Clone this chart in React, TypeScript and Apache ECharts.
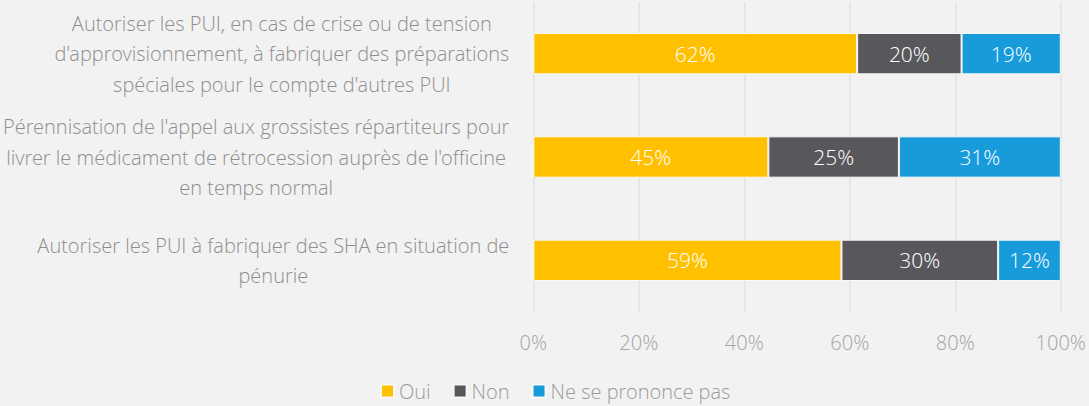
import React, { useEffect, useRef } from "react";
import * as echarts from "echarts";

const categories = [
  "Autoriser les PUI à fabriquer des SHA en situation de\npénurie",
  "Pérennisation de l'appel aux grossistes répartiteurs pour\nlivrer le médicament de rétrocession auprès de l'officine\nen temps normal",
  "Autoriser les PUI, en cas de crise ou de tension\nd'approvisionnement, à fabriquer des préparations\nspéciales pour le compte d'autres PUI",
];
const seriesNames = ["Oui", "Non", "Ne se prononce pas"];
const oui = [59, 45, 62];
const non = [30, 25, 20];
const nsp = [12, 31, 19];
const colors = ["#FFC000", "#58585C", "#179BDB"];
const xTicks = [0, 20, 40, 60, 80, 100];

const FONT = "'Open Sans Light', 'Lato Light', 'Noto Sans Light', 'Open Sans', sans-serif";

export default function App() {
  const ref = useRef<HTMLDivElement>(null);
  useEffect(() => {
    if (!ref.current) return;
    const chart = echarts.init(ref.current, undefined, { renderer: "svg" });
    const raw = [oui, non, nsp];
    const sums = categories.map((_, i) => oui[i] + non[i] + nsp[i]);
    const series = raw.map((arr, s) => ({
      name: seriesNames[s],
      type: "bar",
      stack: "total",
      barWidth: "40%",
      itemStyle: { color: colors[s], borderColor: "#F8F8F8", borderWidth: 1 },
      label: {
        show: true,
        position: "inside",
        color: "#FFFFFF",
        fontFamily: FONT,
        fontWeight: 300,
        fontSize: 21,
        formatter: (p: any) => arr[p.dataIndex] + "%",
      },
      data: arr.map((v, i) => (v / sums[i]) * 100),
    }));
    chart.setOption({
      animation: false,
      backgroundColor: "#F2F2F2",
      textStyle: { fontFamily: FONT },
      color: colors,
      grid: { left: 531, right: 25, top: 2, bottom: 94, containLabel: false },
      legend: {
        top: 379,
        left: 380,
        padding: 0,
        itemWidth: 13,
        itemHeight: 13,
        itemGap: 22,
        icon: "rect",
        textStyle: { color: "#9A9A9A", fontSize: 20, fontWeight: 300, fontFamily: FONT, lineHeight: 24 },
        data: seriesNames,
      },
      xAxis: {
        type: "value",
        min: 0,
        max: 100,
        interval: 20,
        axisLine: { show: false },
        axisTick: { show: false },
        splitLine: { show: true, lineStyle: { color: "#E2E2E2", width: 1.5 } },
        axisLabel: {
          color: "#A6A6A6",
          fontSize: 20,
          fontWeight: 300,
          fontFamily: FONT,
          margin: 20,
          formatter: (v: number) => (xTicks.includes(v) ? v + "%" : ""),
        },
      },
      yAxis: {
        type: "category",
        data: categories,
        axisLine: { show: false },
        axisTick: { show: false },
        axisLabel: {
          margin: 24,
          align: "right",
          color: "#8E8E8E",
          fontSize: 20,
          fontWeight: 300,
          fontFamily: FONT,
          lineHeight: 30.5,
          formatter: (v: string) =>
            v
              .split("\n")
              .map((l) => "{c|" + l + "}")
              .join("\n"),
          rich: {
            c: {
              align: "center",
              color: "#8E8E8E",
              fontSize: 20,
              fontWeight: 300,
              fontFamily: FONT,
              lineHeight: 30.5,
            },
          },
        },
      },
      series,
    });
    return () => chart.dispose();
  }, []);
  return (
    <div
      ref={ref}
      style={{ position: "absolute", left: 0, top: 0, width: 1089, height: 406 }}
    />
  );
}
